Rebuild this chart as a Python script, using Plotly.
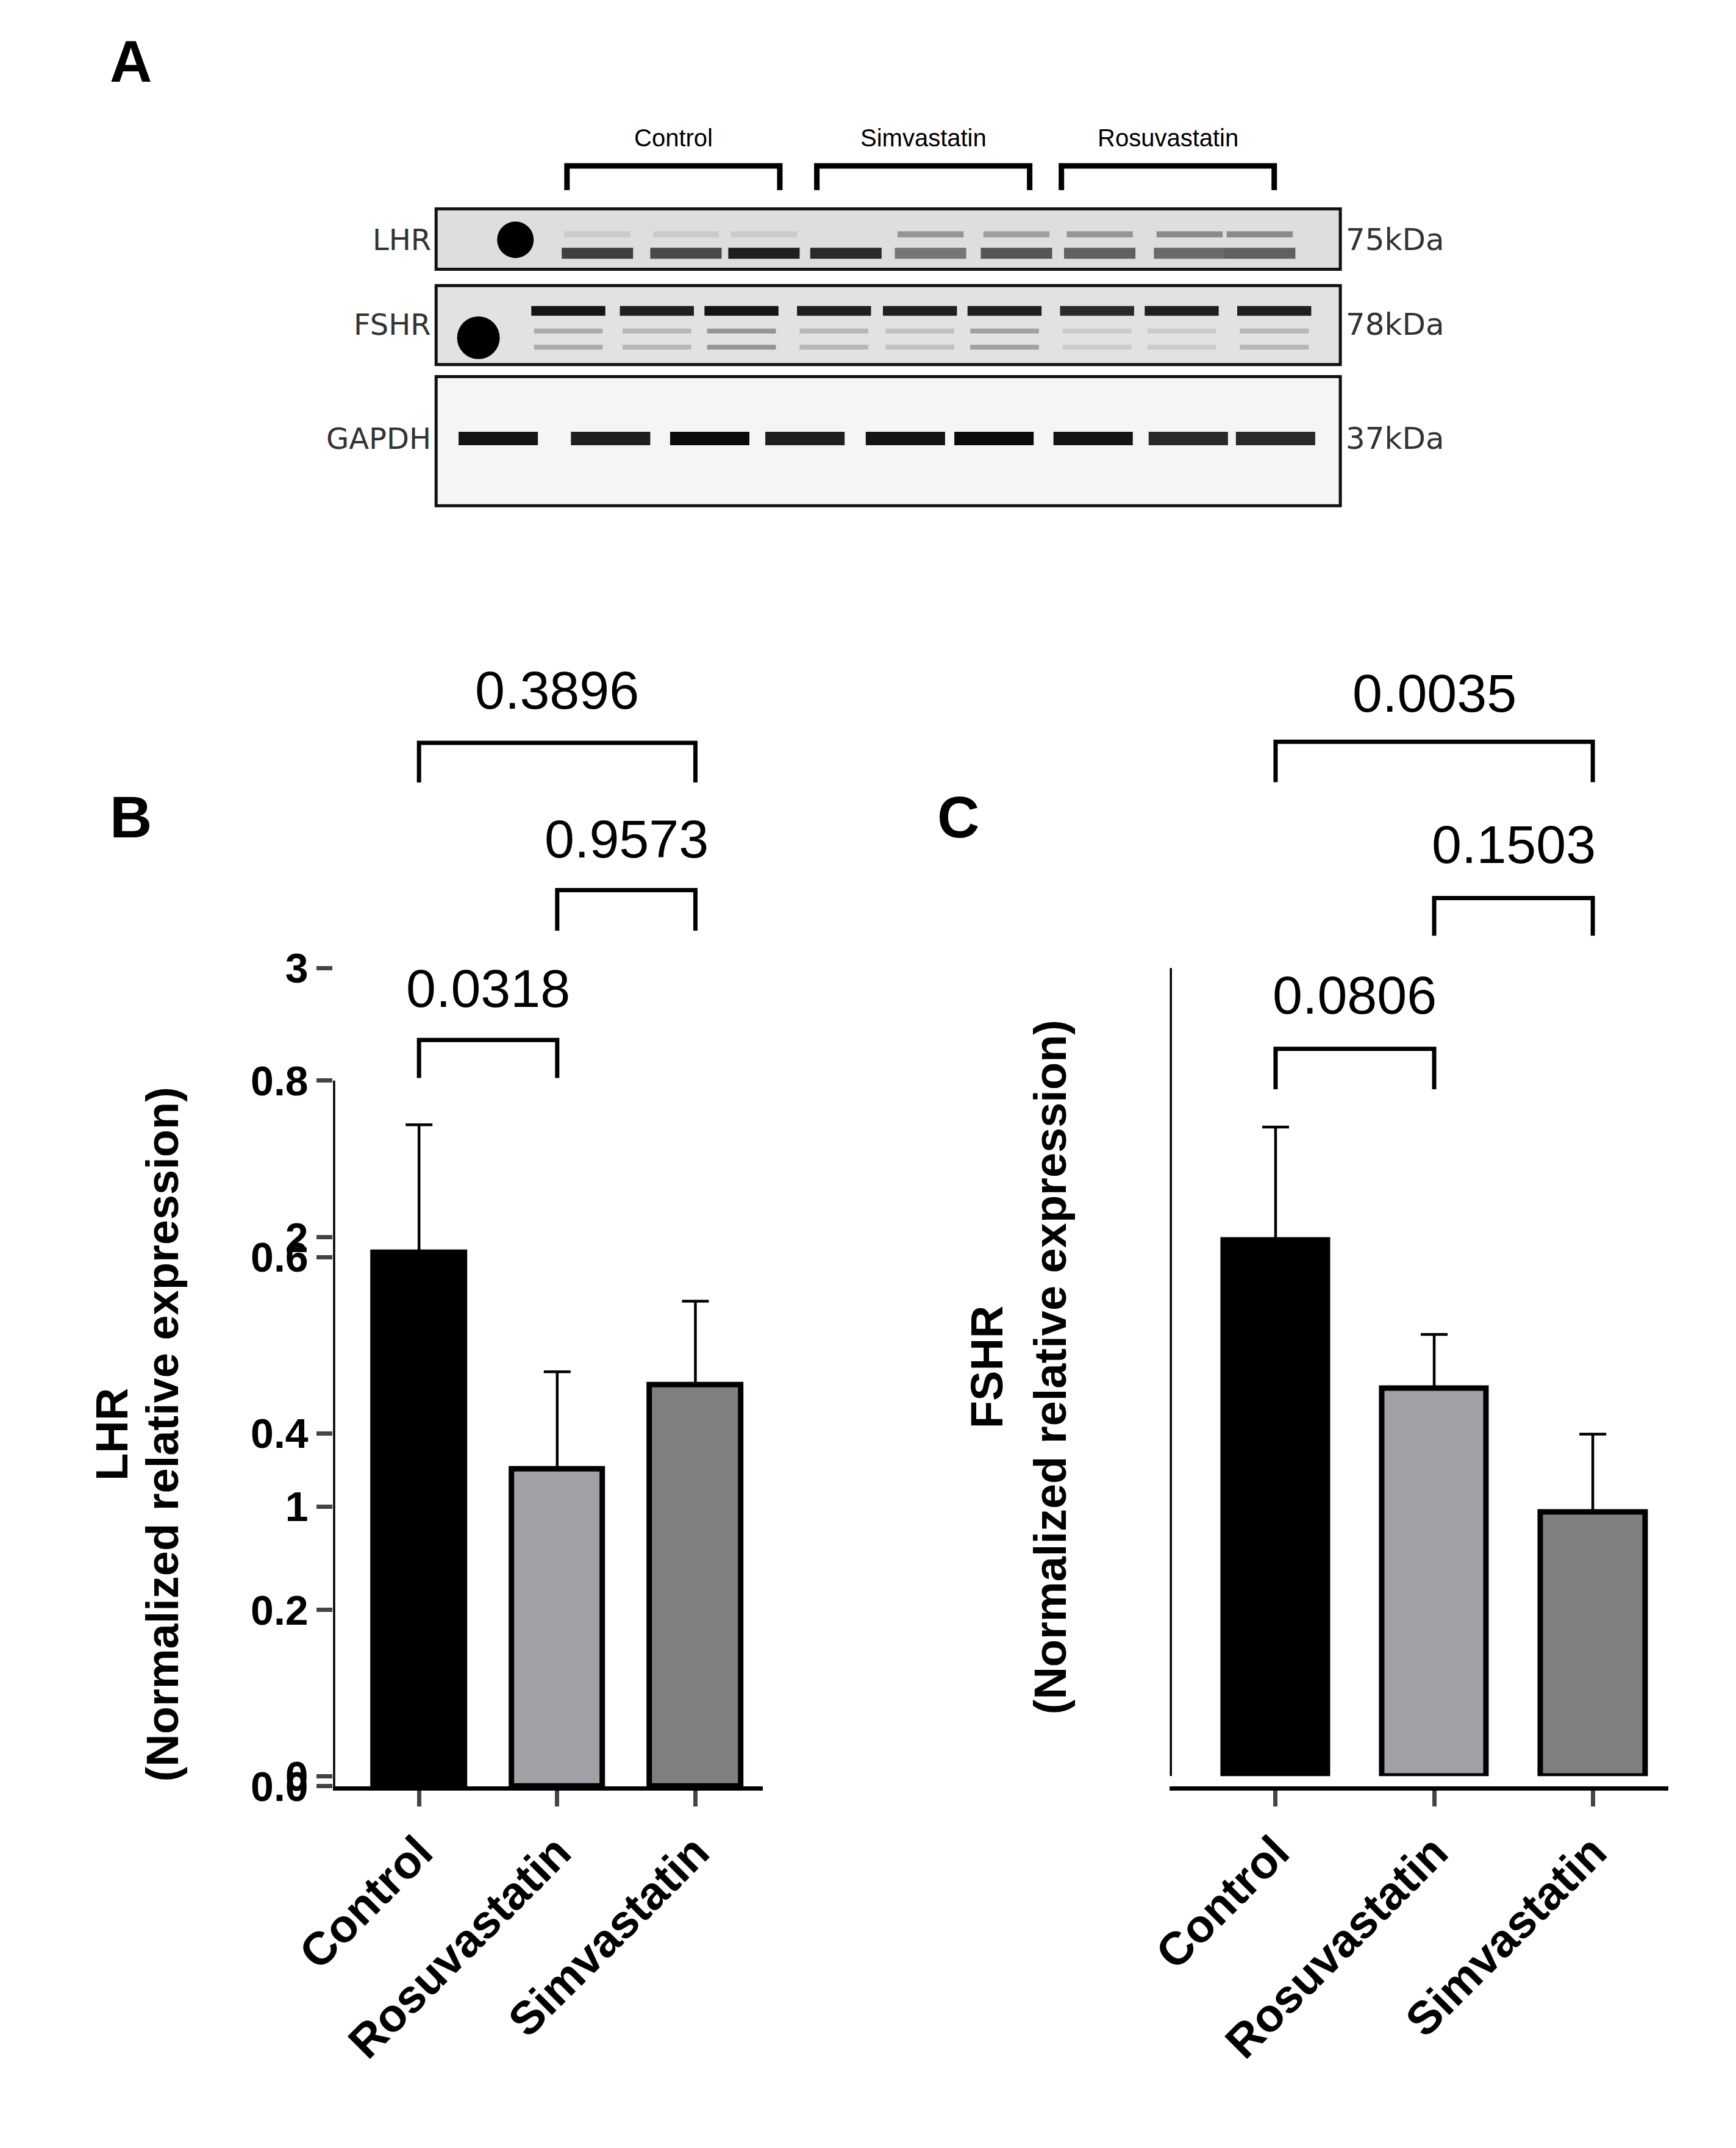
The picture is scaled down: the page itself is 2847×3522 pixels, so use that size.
import plotly.graph_objects as go

# bar data
groups = ['Control', 'Rosuvastatin', 'Simvastatin']
lhr_mean = [0.605, 0.36, 0.455]
lhr_err = [0.145, 0.11, 0.095]
fshr_mean = [1.99, 1.44, 0.98]
fshr_err = [0.42, 0.20, 0.29]
bar_colors = ['#000000', '#a0a0a6', '#808080']

# p values: (left, right, label)
lhr_p = [(0, 1, '0.0318'), (1, 2, '0.9573'), (0, 2, '0.3896')]
fshr_p = [(0, 1, '0.0806'), (1, 2, '0.1503'), (0, 2, '0.0035')]

# blot lanes (image units) and band intensities (0..1)
lhr_lanes = [353, 415, 482, 541, 603, 667, 732, 795, 863, 916]
lhr_main = [1.0, 0.75, 0.7, 0.9, 0.85, 0.5, 0.65, 0.6, 0.55, 0.6]
lhr_minor = [0.0, 0.1, 0.1, 0.1, 0.0, 0.35, 0.3, 0.35, 0.4, 0.4]
fshr_lanes = [325, 393, 460, 524, 594, 659, 723, 793, 857, 927]
fshr_main = [1.0, 0.95, 0.9, 0.95, 0.9, 0.9, 0.9, 0.85, 0.9, 0.9]
fshr_minor = [0.4, 0.25, 0.2, 0.35, 0.2, 0.15, 0.3, 0.1, 0.1, 0.2]
gapdh_lanes = [340, 425, 500, 572, 648, 715, 790, 862, 928]
gapdh_int = [0.95, 0.9, 1.0, 0.9, 0.95, 1.0, 0.95, 0.85, 0.85]

FONT = 'Liberation Sans'
fig = go.Figure()


def gray(v):
    g = int(225 - 215 * v)
    return 'rgb(%d,%d,%d)' % (g, g, g)


def bands(lanes, vals, y, half, width):
    for c, v in zip(lanes, vals):
        if v <= 0:
            continue
        fig.add_trace(go.Scatter(x=[c - half, c + half], y=[y, y], mode='lines',
                                 line=dict(color=gray(v), width=width),
                                 xaxis='x3', yaxis='y3', hoverinfo='skip', showlegend=False))


# blot panels
boxes = [(338 / 2.224, 438 / 2.224, '#dedede'), (465 / 2.224, 596 / 2.224, '#e2e2e2'),
         (616 / 2.224, 830 / 2.224, '#f5f5f5')]
shapes = []
for y0, y1, bg in boxes:
    shapes.append(dict(type='rect', xref='x3', yref='y3', x0=293, x1=977, y0=y0, y1=y1,
                       fillcolor=bg, line=dict(color='#111', width=5), layer='below'))
bands(lhr_lanes[1:], lhr_main[1:], 185, 27, 18)
bands(lhr_lanes[1:], lhr_minor[1:], 171, 25, 10)
fig.add_trace(go.Scatter(x=[lhr_lanes[0]], y=[175], mode='markers',
                         marker=dict(color='black', size=60, symbol='circle'),
                         xaxis='x3', yaxis='y3', showlegend=False))
bands(fshr_lanes[1:], fshr_main[1:], 228, 28, 16)
bands(fshr_lanes[1:], fshr_minor[1:], 243, 26, 8)
bands(fshr_lanes[1:], fshr_minor[1:], 255, 26, 8)
fig.add_trace(go.Scatter(x=[fshr_lanes[0]], y=[248], mode='markers',
                         marker=dict(color='black', size=70, symbol='circle'),
                         xaxis='x3', yaxis='y3', showlegend=False))
bands(gapdh_lanes, gapdh_int, 323, 30, 22)

# group brackets above blot
for x0, x1, name in [(392, 553, 'Control'), (581, 742, 'Simvastatin'), (766, 927, 'Rosuvastatin')]:
    fig.add_trace(go.Scatter(x=[x0, x0, x1, x1], y=[138, 120, 120, 138], mode='lines',
                             line=dict(color='black', width=9), xaxis='x3', yaxis='y3',
                             showlegend=False))
    fig.add_annotation(x=(x0 + x1) / 2, y=99, xref='x3', yref='y3', text=name, showarrow=False,
                       font=dict(family=FONT, size=40, color='black'))
for y, t in [(175, 'LHR'), (238, 'FSHR'), (323, 'GAPDH')]:
    fig.add_annotation(x=290, y=y, xref='x3', yref='y3', text=t, showarrow=False, xanchor='right',
                       font=dict(family='DejaVu Sans', size=48, color='#333'))
for y, t in [(175, '75kDa'), (238, '78kDa'), (323, '37kDa')]:
    fig.add_annotation(x=980, y=y, xref='x3', yref='y3', text=t, showarrow=False, xanchor='left',
                       font=dict(family='DejaVu Sans', size=50, color='#333'))


def bar_panel(xa, ya, means, errs, pvals, ytop, ystep, xleft):
    fig.add_trace(go.Bar(x=[0, 1, 2], y=means, width=0.66, xaxis=xa, yaxis=ya,
                         marker=dict(color=bar_colors, line=dict(color='black', width=9)),
                         error_y=dict(type='data', array=errs, arrayminus=[0, 0, 0],
                                      symmetric=False, color='black', thickness=4.5, width=22),
                         showlegend=False))
    # y axis line only up to the top tick
    shapes.append(dict(type='line', xref=xa, yref=ya, x0=xleft, x1=xleft, y0=0, y1=ytop,
                       line=dict(color='black', width=7)))
    for i, (a, b, lab) in enumerate(pvals):
        lvl, top, txt = ystep[i]
        fig.add_trace(go.Scatter(x=[a, a, b, b], y=[lvl, top, top, lvl], mode='lines',
                                 line=dict(color='black', width=7), xaxis=xa, yaxis=ya,
                                 showlegend=False, hoverinfo='skip'))
        fig.add_annotation(x=(a + b) / 2, y=txt, xref=xa, yref=ya, text=lab, showarrow=False,
                           font=dict(family=FONT, size=88, color='black'))


bar_panel('x', 'y', lhr_mean, lhr_err, lhr_p, 0.8,
          [(0.803, 0.846, 0.905), (0.970, 1.016, 1.074), (1.138, 1.183, 1.243)], -0.622)
bar_panel('x2', 'y2', fshr_mean, fshr_err, fshr_p, 3,
          [(2.55, 2.70, 2.90), (3.12, 3.26, 3.46), (3.69, 3.84, 4.02)], -0.667)

tickfont = dict(family=FONT, size=68, color='black', weight='bold')
xt = dict(tickmode='array', tickvals=[0, 1, 2], ticktext=groups, tickangle=-45,
          ticks='outside', ticklen=26, tickwidth=7, showline=True, linewidth=7, linecolor='black',
          showgrid=False, zeroline=False, tickfont=dict(family=FONT, size=76, color='black',
                                                          weight='bold'))
yt = dict(ticks='outside', ticklen=26, tickwidth=7, showline=False, showgrid=False,
          zeroline=False, tickfont=tickfont)

fig.update_layout(
    width=2847, height=3522, margin=dict(l=0, r=0, t=0, b=0),
    plot_bgcolor='rgba(0,0,0,0)', paper_bgcolor='white', shapes=shapes, bargap=0,
    xaxis=dict(xt, domain=[0.168, 0.422], range=[-0.622, 2.488]),
    yaxis=dict(yt, domain=[0.1616, 0.7013], range=[0, 1.3], tickvals=[0, 0.2, 0.4, 0.6, 0.8],
               ticktext=['0.0', '0.2', '0.4', '0.6', '0.8']),
    xaxis2=dict(xt, domain=[0.6625, 0.957], range=[-0.667, 2.475]),
    yaxis2=dict(yt, domain=[0.1664, 0.6988], range=[0, 4.2], tickvals=[0, 1, 2, 3]),
    xaxis3=dict(domain=[0, 1], range=[0, 1280], visible=False),
    yaxis3=dict(domain=[0, 1], range=[1583, 0], visible=False),
)

# panel letters and axis titles
for x, y, t in [(62, 42, 'A'), (62, 605, 'B'), (688, 605, 'C')]:
    fig.add_annotation(x=x, y=y, xref='x3', yref='y3', text='<b>%s</b>' % t, showarrow=False,
                       font=dict(family=FONT, size=96, color='black'))
for x, y, t in [(48, 1065, 'LHR'), (86, 1065, '(Normalized relative expression)'),
                (710, 1015, 'FSHR'), (758, 1015, '(Normalized relative expression)')]:
    fig.add_annotation(x=x, y=y, xref='x3', yref='y3', text='<b>%s</b>' % t, showarrow=False,
                       textangle=-90, font=dict(family=FONT, size=74, color='black'))

fig.write_html('out.html')
